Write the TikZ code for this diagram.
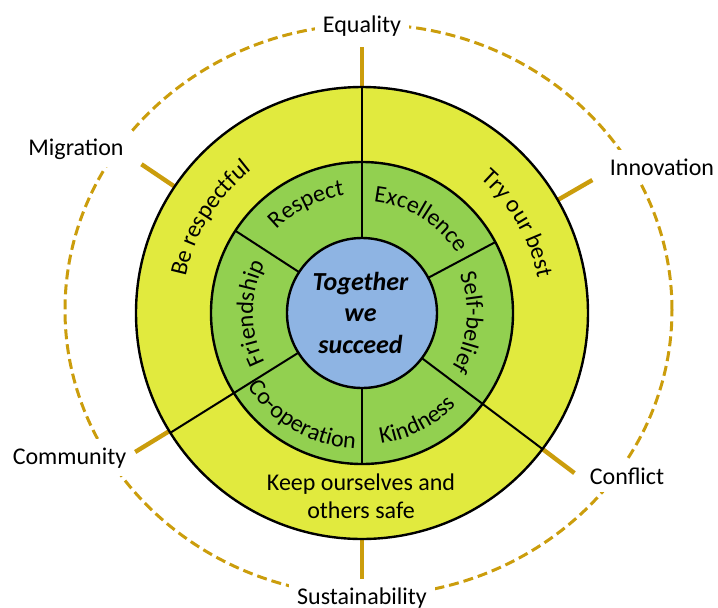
\documentclass[tikz,border=0pt]{standalone}
\usepackage{fontspec}
\setmainfont{Carlito}
\usetikzlibrary{decorations.text}

\definecolor{ringyellow}{RGB}{225,234,62}
\definecolor{ringgreen}{RGB}{146,208,80}
\definecolor{coreblue}{RGB}{142,180,227}
\definecolor{gold}{RGB}{203,157,12}

\newcommand{\ringfont}{\fontsize{12}{14}\selectfont}

\tikzset{
  ring/.style={draw=black, line width=1.2pt},
  divider/.style={draw=black, line width=1pt},
  tick/.style={draw=gold, line width=2.2pt},
  dashring/.style={draw=gold, line width=1.5pt, dash pattern=on 5pt off 2.5pt},
  theme/.style={fill=white, inner sep=4pt, font=\ringfont, anchor=base},
  ringtext/.style={decorate, decoration={text along path, text align=center, text={|\ringfont|#1}}}
}

\begin{document}
\begin{tikzpicture}[x=0.5pt, y=0.5pt]
  \useasboundingbox (-362,-294) rectangle (356,313);

  % Outer dashed ring
  \draw[dashring] (6.5,3) ellipse [x radius=303.5, y radius=285.6];

  % Theme labels
  \node[theme] (equality) at (0,281) {Equality};
  \node[theme] (innovation) at (300,138) {Innovation};
  \node[theme] (conflict) at (265,-171) {Conflict};
  \node[theme] (sustainability) at (0,-291.5) {Sustainability};
  \node[theme] (community) at (-292.5,-151) {Community};
  \node[theme] (migration) at (-286,158) {Migration};

  % Ticks
  \foreach \ang in {90,30,-37,-90,211.5,146} {
    \draw[tick] (\ang:226) -- (\ang:266);
  }

  % Rings
  \fill[ringyellow, ring] (0,0) circle (226);
  \fill[ringgreen, ring] (0,0) circle (151);

  % Dividers
  \foreach \ang in {90,-37,212} {
    \draw[divider] (\ang:75) -- (\ang:226);
  }
  \foreach \ang in {28,-90,147} {
    \draw[divider] (\ang:75) -- (\ang:151);
  }

  % Core
  \fill[coreblue, ring] (0,0) circle (75);
  \node[font=\fontsize{13}{15.75}\selectfont\bfseries\itshape, align=center] (motto) at (-1.5,0.5)
    {Together\\we\\succeed};

  % Outer ring texts
  \path[ringtext={Be respectful}] (193:180) arc[start angle=193, end angle=103, radius=180];
  \path[ringtext={Try our best}] (75:179) arc[start angle=75, end angle=-15, radius=179];
  \node[font=\ringfont, align=center] (safe) at (-1,-183) {Keep ourselves and\\others safe};

  % Inner ring texts
  \path[ringtext={Respect}] (162:119) arc[start angle=162, end angle=72, radius=119];
  \path[ringtext={Excellence}] (103:112) arc[start angle=103, end angle=13, radius=112];
  \path[ringtext={Self-belief}] (40:105) arc[start angle=40, end angle=-50, radius=105];
  \path[ringtext={Kindness}] (-108:132) arc[start angle=-108, end angle=-18, radius=132];
  \path[ringtext={Co-operation}] (-165:136) arc[start angle=-165, end angle=-75, radius=136];
  \path[ringtext={Friendship}] (225:109) arc[start angle=225, end angle=135, radius=109];

\end{tikzpicture}
\end{document}
